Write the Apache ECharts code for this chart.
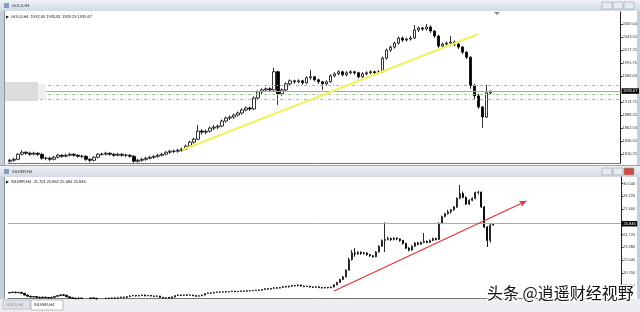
<!DOCTYPE html>
<html><head><meta charset="utf-8">
<script src="https://cdn.jsdelivr.net/npm/echarts@6/dist/echarts.min.js"></script>
<style>html,body{margin:0;padding:0;background:#fff}#c{width:640px;height:312px}</style>
</head><body><div id="c"></div>
<script>
// [open, close, low, high]
const goldCandles = [
[1796,1798,1793,1801],[1798,1800,1795,1803],[1800,1810,1798,1812],[1810,1814,1808,1818],[1814,1812,1809,1816],[1812,1810,1807,1815],
[1810,1812,1808,1815],[1812,1810,1806,1814],[1810,1802,1799,1812],[1802,1802,1798,1805],[1802,1800,1796,1805],[1800,1804,1798,1807],
[1804,1808,1802,1811],[1808,1806,1803,1810],[1806,1808,1804,1811],[1808,1810,1806,1813],[1810,1808,1805,1812],[1808,1806,1803,1810],
[1806,1806,1802,1809],[1806,1800,1797,1808],[1800,1798,1794,1802],[1798,1804,1796,1806],[1804,1810,1802,1812],[1810,1810,1807,1813],
[1810,1812,1808,1815],[1812,1810,1807,1814],[1810,1808,1805,1812],[1808,1810,1806,1813],[1810,1808,1805,1812],[1808,1808,1804,1811],
[1808,1806,1803,1810],[1806,1796,1793,1808],[1796,1798,1793,1801],[1798,1800,1795,1803],[1800,1802,1797,1805],[1802,1804,1800,1807],
[1804,1806,1801,1808],[1806,1808,1803,1811],[1808,1810,1806,1813],[1810,1814,1808,1816],[1814,1816,1811,1819],[1816,1816,1812,1819],
[1816,1818,1813,1821],[1818,1820,1815,1823],[1820,1826,1818,1829],[1826,1834,1824,1837],[1834,1840,1831,1843],[1840,1856,1838,1868],
[1856,1854,1849,1860],[1854,1856,1850,1859],[1856,1862,1853,1865],[1862,1864,1858,1868],[1864,1866,1860,1869],[1866,1876,1864,1879],
[1876,1882,1873,1885],[1882,1884,1878,1887],[1884,1888,1881,1891],[1888,1892,1885,1895],[1892,1898,1889,1901],[1898,1902,1895,1905],
[1902,1900,1896,1905],[1900,1922,1898,1925],[1922,1934,1919,1937],[1934,1938,1930,1941],[1938,1940,1934,1943],[1940,1938,1934,1943],
[1938,1974,1936,1982],[1974,1930,1908,1976],[1930,1938,1926,1941],[1938,1950,1935,1953],[1950,1956,1947,1959],[1956,1954,1950,1958],
[1954,1956,1951,1959],[1956,1952,1948,1958],[1952,1962,1950,1965],[1962,1964,1958,1978],[1964,1958,1955,1966],[1958,1954,1950,1960],
[1954,1950,1938,1956],[1950,1954,1947,1957],[1954,1966,1952,1969],[1966,1970,1963,1973],[1970,1974,1967,1977],[1974,1968,1965,1976],
[1968,1972,1965,1975],[1972,1974,1969,1977],[1974,1972,1968,1976],[1972,1964,1961,1974],[1964,1970,1962,1973],[1970,1972,1967,1975],
[1972,1974,1969,1977],[1974,1972,1968,1976],[1972,1974,1969,1977],[1974,2001,1972,2004],[2001,2017,1998,2020],[2017,2023,2013,2026],
[2023,2031,2020,2034],[2031,2041,2028,2044],[2041,2037,2033,2044],[2037,2039,2034,2042],[2039,2041,2036,2045],[2041,2057,2039,2067],
[2057,2061,2053,2064],[2061,2059,2055,2063],[2059,2063,2056,2069],[2063,2055,2051,2066],[2055,2045,2041,2057],[2045,2025,2021,2047],
[2025,2029,2021,2032],[2029,2031,2026,2034],[2031,2033,2028,2045],[2033,2029,2025,2036],[2029,2023,2019,2031],[2023,2013,2009,2025],
[2013,2003,1999,2015],[2003,1946,1940,2005],[1946,1926,1920,1950],[1926,1904,1900,1930],[1904,1884,1862,1906],[1884,1932,1882,1948],
[1932.09,1935.67,1928.29,1935.81]
];
const silverCandles = [
[18.62,18.66,18.58,18.72],[18.66,18.70,18.62,18.75],[18.70,18.64,18.60,18.74],[18.64,18.68,18.60,18.72],[18.68,18.58,18.54,18.70],[18.58,18.40,18.36,18.60],
[18.40,18.28,18.22,18.44],[18.28,18.20,18.14,18.32],[18.20,18.24,18.14,18.30],[18.24,18.16,18.10,18.28],[18.16,18.12,18.06,18.22],[18.12,18.18,18.08,18.24],
[18.18,18.14,18.08,18.22],[18.14,18.10,18.04,18.20],[18.10,18.16,18.06,18.22],[18.16,18.26,18.12,18.30],[18.26,18.34,18.22,18.40],[18.34,18.42,18.30,18.46],
[18.42,18.38,18.32,18.46],[18.38,18.22,18.18,18.42],[18.22,18.12,18.06,18.26],[18.12,18.06,18.00,18.16],[18.06,18.02,17.96,18.12],[18.02,18.08,17.98,18.14],
[18.08,18.04,17.98,18.12],[18.04,17.98,17.92,18.08],[17.98,18.02,17.94,18.08],[18.02,18.10,17.98,18.14],[18.10,18.06,18.00,18.14],[18.06,18.00,17.94,18.10],
[18.00,17.96,17.90,18.04],[17.96,18.02,17.92,18.08],[18.02,18.08,17.98,18.12],[18.08,18.04,17.98,18.12],[18.04,18.10,18.00,18.16],[18.10,18.06,18.00,18.14],
[18.06,18.12,18.02,18.18],[18.12,18.18,18.08,18.22],[18.18,18.14,18.08,18.22],[18.14,18.24,18.10,18.28],[18.24,18.32,18.20,18.38],[18.32,18.36,18.28,18.42],
[18.36,18.30,18.24,18.40],[18.30,18.34,18.26,18.40],[18.34,18.40,18.30,18.44],[18.40,18.32,18.26,18.44],[18.32,18.36,18.28,18.40],[18.36,18.30,18.24,18.40],
[18.30,18.26,18.20,18.34],[18.26,18.30,18.22,18.36],[18.30,18.16,18.10,18.32],[18.16,18.10,18.04,18.20],[18.10,18.14,18.04,18.18],[18.14,18.08,18.02,18.18],
[18.08,18.20,18.04,18.24],[18.20,18.34,18.16,18.38],[18.34,18.40,18.30,18.46],[18.40,18.36,18.30,18.44],[18.36,18.42,18.32,18.46],[18.42,18.38,18.32,18.46],
[18.38,18.40,18.34,18.46],[18.40,18.34,18.28,18.44],[18.34,18.28,18.22,18.38],[18.28,18.32,18.24,18.36],[18.32,18.40,18.28,18.44],[18.40,18.56,18.36,18.60],
[18.56,18.62,18.52,18.66],[18.62,18.60,18.54,18.66],[18.60,18.68,18.56,18.74],[18.68,18.72,18.64,18.76],[18.72,18.70,18.64,18.76],[18.70,18.74,18.66,18.78],
[18.74,18.72,18.66,18.78],[18.72,18.76,18.68,18.80],[18.76,18.80,18.72,18.84],[18.80,18.76,18.70,18.84],[18.76,18.78,18.72,18.82],[18.78,18.82,18.74,18.86],
[18.82,18.80,18.74,18.86],[18.80,18.86,18.76,18.90],[18.86,18.84,18.78,18.90],[18.84,18.88,18.80,18.92],[18.88,18.92,18.84,18.96],[18.92,18.90,18.84,18.96],
[18.90,18.98,18.86,19.02],[18.98,19.06,18.94,19.10],[19.06,19.02,18.96,19.10],[19.02,19.10,18.98,19.14],[19.10,19.16,19.06,19.20],[19.16,19.12,19.06,19.20],
[19.12,19.20,19.08,19.24],[19.20,19.28,19.16,19.34],[19.28,19.24,19.18,19.32],[19.24,19.32,19.20,19.38],[19.32,19.40,19.28,19.46],[19.40,19.36,19.30,19.44],
[19.36,19.44,19.32,19.50],[19.44,19.34,19.28,19.48],[19.34,19.28,19.22,19.38],[19.28,19.32,19.24,19.36],[19.32,19.24,19.18,19.36],[19.24,19.20,19.14,19.28],
[19.20,19.26,19.16,19.30],[19.26,19.18,19.12,19.30],[19.18,19.14,19.08,19.22],[19.14,19.20,19.10,19.24],[19.20,19.16,19.10,19.24],[19.16,19.24,19.12,19.28],
[19.24,19.46,19.20,19.52],[19.46,19.72,19.42,19.78],[19.72,20.02,19.68,20.10],[20.02,20.30,19.96,20.40],[20.30,21.00,20.24,21.10],[21.00,22.10,20.96,22.30],
[22.10,22.80,22.00,23.10],[22.80,22.70,22.40,23.30],[22.70,22.86,22.60,23.00],[22.86,22.74,22.60,22.96],[22.74,22.80,22.62,22.92],[22.80,22.62,22.50,22.86],
[22.62,22.50,22.38,22.70],[22.50,22.40,22.30,22.58],[22.40,22.90,22.34,22.98],[22.90,23.50,22.84,23.60],[23.50,24.10,23.44,24.20],[24.10,24.20,22.90,26.00],
[24.20,24.30,24.10,24.50],[24.30,24.20,24.04,24.40],[24.20,24.34,24.10,24.44],[24.34,24.26,24.12,24.40],[24.26,24.10,23.96,24.32],[24.10,23.80,23.66,24.16],
[23.80,23.30,23.20,23.86],[23.30,23.10,22.96,23.40],[23.10,23.50,23.02,23.60],[23.50,23.84,23.44,23.92],[23.84,23.70,23.60,23.96],[23.70,23.90,23.64,24.00],
[23.90,24.00,23.80,24.88],[24.00,23.90,23.80,24.10],[23.90,24.10,23.84,24.20],[24.10,24.30,24.04,24.40],[24.30,24.20,24.10,24.40],[24.20,25.90,24.16,26.00],
[25.90,26.60,25.80,26.70],[26.60,26.90,26.50,27.00],[26.90,27.10,26.80,27.30],[27.10,27.30,26.90,27.40],[27.30,27.60,27.20,27.70],[27.60,28.50,27.50,28.60],
[28.50,29.00,28.40,29.89],[29.00,28.60,28.50,29.20],[28.60,27.90,27.80,28.70],[27.90,28.30,27.80,28.40],[28.30,28.50,28.20,28.60],[28.50,29.10,28.40,29.20],
[29.10,29.16,28.90,29.30],[29.16,27.60,27.50,29.20],[27.60,25.50,25.40,27.70],[25.50,24.10,23.42,25.60],[24.10,25.70,23.90,25.90],[25.701,25.846,25.684,25.862]
];
const goldTicks = [2069.00, 2043.50, 2017.25, 1991.75, 1966.00, 1913.75, 1888.25, 1862.50, 1836.50, 1810.25];
const silverTicks = [30.040, 28.720, 27.400, 24.720, 23.380, 22.040, 20.700, 19.360];
const goldLevels = [1947.7, 1928.8, 1919.9];
const goldTrend = [[43, 1818.4], [117, 2049.1]];
const silverTrend = [[108, 18.82], [172, 28.22]];
const goldSlots = 153, silverSlots = 204;

const F = 'Liberation Sans, Arial, sans-serif';
const cats = n => Array.from({length: n}, (_, i) => String(i));
const gl = goldCandles[goldCandles.length - 1];
const sl = silverCandles[silverCandles.length - 1];
const goldInfo = 'GOLD,H4  ' + [gl[0], gl[3], gl[2], gl[1]].map(v => v.toFixed(2)).join(' ');
const silverInfo = 'SILVER,H4  ' + [sl[0], sl[3], sl[2], sl[1]].map(v => v.toFixed(3)).join(' ');

const candleStyle = {color:'#fff', color0:'#000', borderColor:'#000', borderColor0:'#000', borderColorDoji:'#000', borderWidth:0.8};
const silverStyle = {color:'#fff', color0:'#000', borderColor:'#111', borderColor0:'#000', borderColorDoji:'#000', borderWidth:0.9};
const yBase = (ticks, fmt, min, max, gi) => ({
  type:'value', gridIndex:gi, position:'right', min:min, max:max,
  axisLine:{show:true, lineStyle:{color:'#222', width:1}},
  axisTick:{show:true, length:2, customValues:ticks, lineStyle:{color:'#222'}},
  axisLabel:{show:true, customValues:ticks, formatter:v => v.toFixed(fmt), fontSize:4, color:'#333', margin:2, fontFamily:F},
  splitLine:{show:false}
});
const xBase = (n, gi) => ({
  type:'category', gridIndex:gi, data:cats(n), boundaryGap:true,
  axisLine:{show:true, lineStyle:{color:'#777', width:1}}, axisTick:{show:false}, axisLabel:{show:false}, splitLine:{show:false}
});
const lastLabel = txt => ({show:true, position:'end', formatter:txt, color:'#fff', backgroundColor:'#000', fontSize:4, fontFamily:F, padding:[1,1.5,0.5,1.5], distance:1});

const bgGrad = {type:'linear', x:0, y:0, x2:0, y2:1, colorStops:[{offset:0, color:'#eef1f5'}, {offset:1, color:'#d3dae3'}]};
const btn = (x, y, fill) => ({type:'rect', z:-8, shape:{x:x, y:y, width:10, height:7}, style:{fill:fill, stroke:'#98a1ab', lineWidth:0.6}});
const txt = (x, y, t, size, color, z) => ({type:'text', z:z || -7, style:{x:x, y:y, text:t, fill:color, font:size + 'px ' + F, verticalAlign:'middle'}});

const option = {
  animation:false,
  backgroundColor:'#c6ced8',
  grid:[{left:8, right:19, top:12, height:151}, {left:8, right:19, top:177, height:121}],
  xAxis:[xBase(goldSlots, 0), xBase(silverSlots, 1)],
  yAxis:[yBase(goldTicks, 2, 1792.6, 2092.8, 0), yBase(silverTicks, 3, 18.09, 30.73, 1)],
  series:[
    {type:'candlestick', xAxisIndex:0, yAxisIndex:0, data:goldCandles, barWidth:3, itemStyle:candleStyle, clip:true,
     markLine:{silent:true, symbol:'none', animation:false, data:[
       {yAxis:gl[1], lineStyle:{color:'#a9a9a9', type:'solid', width:1}, label:lastLabel(gl[1].toFixed(2))},
       {yAxis:goldLevels[0], lineStyle:{color:'#d7a29c', type:[3,2,1,2], width:1}, label:{show:false}},
       {yAxis:goldLevels[1], lineStyle:{color:'#a9c79a', type:[3,2,1,2], width:1}, label:{show:false}},
       {yAxis:goldLevels[2], lineStyle:{color:'#d3aaa2', type:[3,2,1,2], width:1}, label:{show:false}},
       [{coord:goldTrend[0], lineStyle:{color:'#f1f25c', width:2, type:'solid'}, label:{show:false}},
        {coord:goldTrend[1], lineStyle:{color:'#f1f25c', width:2, type:'solid'}}]
     ]}},
    {type:'candlestick', xAxisIndex:1, yAxisIndex:1, data:silverCandles, barWidth:1.8, itemStyle:silverStyle, clip:true,
     markLine:{silent:true, symbol:'none', animation:false, data:[
       {yAxis:sl[1], lineStyle:{color:'#a9a9a9', type:'solid', width:1}, label:lastLabel(sl[1].toFixed(3))},
       [{coord:silverTrend[0], symbol:'none', lineStyle:{color:'#e0353a', width:1.3, type:'solid'}, label:{show:false}},
        {coord:silverTrend[1], symbol:'arrow', symbolSize:[5,7], itemStyle:{color:'#e0353a'}, lineStyle:{color:'#e0353a', width:1.3, type:'solid'}}]
     ]}}
  ],
  graphic:{elements:[
    {type:'rect', z:-10, shape:{x:0, y:0, width:640, height:11}, style:{fill:bgGrad}},
    {type:'rect', z:-10, shape:{x:0, y:166, width:640, height:11}, style:{fill:bgGrad}},
    {type:'rect', z:-10, shape:{x:5, y:11, width:632, height:154}, style:{fill:'#fff'}},
    {type:'rect', z:-10, shape:{x:5, y:177, width:632, height:122}, style:{fill:'#fff'}},
    {type:'rect', z:-9, shape:{x:4, y:11, width:1, height:154}, style:{fill:'#8d96a1'}},
    {type:'rect', z:-9, shape:{x:4, y:177, width:1, height:122}, style:{fill:'#8d96a1'}},
    {type:'rect', z:-10, shape:{x:0, y:299, width:640, height:13}, style:{fill:'#eceef2'}},
    {type:'rect', z:-9, shape:{x:0, y:165, width:640, height:1}, style:{fill:'#9aa3ad'}},
    {type:'rect', z:-8, shape:{x:4, y:3, width:5, height:5}, style:{fill:'#7f9fc4'}},
    {type:'rect', z:-8, shape:{x:4, y:169, width:5, height:5}, style:{fill:'#7f9fc4'}},
    txt(12, 5.8, 'GOLD,H4', 4, '#2a2a2a'),
    txt(12, 171.8, 'SILVER,H4', 4, '#2a2a2a'),
    btn(602, 2, '#e6eaef'), btn(613, 2, '#e6eaef'), btn(624, 2, '#e6eaef'),
    btn(602, 168, '#e6eaef'), btn(613, 168, '#e6eaef'), btn(624, 168, '#c94a40'),
    {type:'polygon', z:-7, shape:{points:[[6,15.5],[9,17],[6,18.5]]}, style:{fill:'#111'}},
    {type:'polygon', z:-7, shape:{points:[[6,180.5],[9,182],[6,183.5]]}, style:{fill:'#111'}},
    txt(11, 17, goldInfo, 4, '#111'),
    txt(11, 182, silverInfo, 4, '#111'),
    {type:'rect', z:-8, shape:{x:3, y:300, width:27, height:9}, style:{fill:'#dfe3e8', stroke:'#a7adb5', lineWidth:0.6}},
    {type:'rect', z:-8, shape:{x:31, y:300, width:32, height:10}, style:{fill:'#fff', stroke:'#8d949c', lineWidth:0.6}},
    txt(6, 304.5, 'GOLD,H4', 4, '#888'),
    txt(34, 305, 'SILVER,H4', 4, '#222'),
    {type:'polygon', z:50, shape:{points:[[494,12],[500,12],[497,15]]}, style:{fill:'#8a8a8a'}},
    {type:'rect', z:50, shape:{x:5, y:82, width:33, height:19}, style:{fill:'#dcdcdc'}},
    {type:'rect', z:50, shape:{x:38, y:84, width:8, height:15}, style:{fill:'#eeeeee'}},
    {type:'text', z:100, style:{x:487, y:293, text:'头条 @逍遥财经视野', fill:'#111', stroke:'#fff', lineWidth:2.5,
      font:'16px "Noto Sans CJK SC", sans-serif', verticalAlign:'middle'}}
  ]}
};
const chart = echarts.init(document.getElementById('c'), null, {renderer:'canvas'});
chart.setOption(option);
</script></body></html>
